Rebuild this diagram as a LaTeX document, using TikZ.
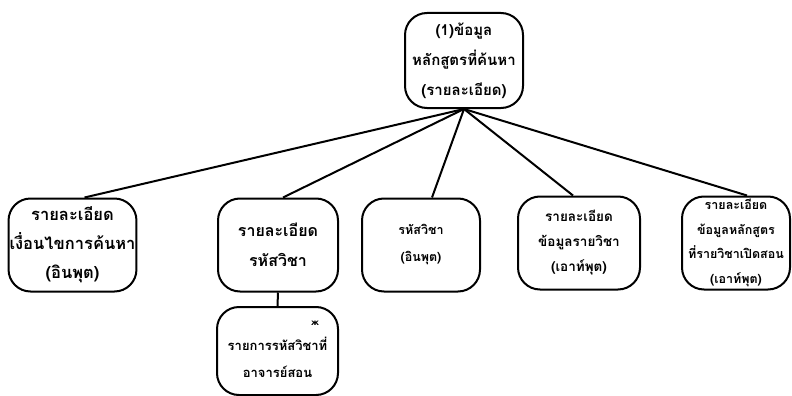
\documentclass[tikz,border=0pt]{standalone}
\usepackage{fontspec}
\newfontfamily\thaifont[Script=Thai]{Loma}
\newfontfamily\symfont{DejaVu Sans}
\usepackage{tikz}
\usetikzlibrary{positioning}

\begin{document}
\begin{tikzpicture}[
  x=1pt, y=-1pt,
  fs/.style 2 args={font=\thaifont\bfseries\fontsize{#1}{#2}\selectfont},
  screen/.style={
    draw=black, rounded corners=22pt, line width=2pt, align=center,
    inner sep=1pt, minimum width=120pt, minimum height=93pt,
    fs={13.5}{27}
  },
  link/.style={line width=2pt, black}
]

\useasboundingbox (0,0) rectangle (792,396);

% Root: search result
\node[screen, minimum width=118pt, minimum height=95pt, fs={15}{30}] (root) at (464,60.5) {
  \rule{0pt}{14pt}(1)ข้อมูล\\
  หลักสูตรที่ค้นหา\\
  (รายละเอียด)
};

% Row of screens
\node[screen, minimum width=121pt, fs={16.5}{29}] (cond) at (72.5,245) {
  รายละเอียด\\
  เงื่อนไขการค้นหา\\
  (อินพุต)
};

\node[screen, fs={16}{30}] (code) at (278,245) {
  รายละเอียด\\
  รหัสวิชา
};

\node[screen, minimum width=118pt, fs={12.5}{27}] (codein) at (421,245) {
  รหัสวิชา\\
  (อินพุต)
};

\node[screen, minimum width=122pt, fs={13.5}{25}] (subj) at (579,243) {
  รายละเอียด\\
  ข้อมูลรายวิชา\\
  (เอาท์พุต)
};

\node[screen, minimum width=108pt, inner sep=0pt, fs={12.5}{24.5}] (prog) at (736,243) {
  รายละเอียด\\
  ข้อมูลหลักสูตร\\
  ที่รายวิชาเปิดสอน\\
  (เอาท์พุต)
};

% Child of code screen
\node[screen, minimum width=121pt, minimum height=88pt, fs={13}{27}] (teach) at (277.5,351) {
  \rule{0pt}{26pt}รายการรหัสวิชาที่\\
  อาจารย์สอน
};
\node[font=\symfont\bfseries\fontsize{8}{8}\selectfont] (mark) at (315,323) {ж};

% Connecting lines
\draw[link] (root.south) -- ([xshift=12pt]cond.north);
\draw[link] (root.south) -- ([xshift=5pt]code.north);
\draw[link] (root.south) -- ([xshift=11pt]codein.north);
\draw[link] (root.south) -- ([xshift=-6pt]subj.north);
\draw[link] (root.south) -- ([xshift=11pt]prog.north);
\draw[link] (code.south) -- (teach.north);

\end{tikzpicture}
\end{document}
